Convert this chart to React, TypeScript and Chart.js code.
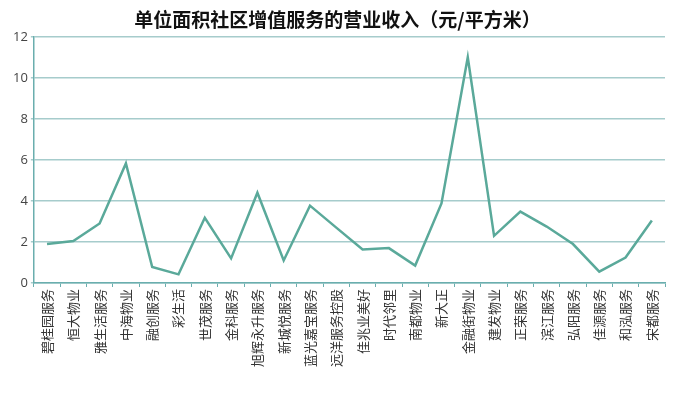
import React, { useEffect, useRef } from "react";
import { Chart, registerables } from "chart.js";

Chart.register(...registerables);

const categories = [
  "碧桂园服务", "恒大物业", "雅生活服务", "中海物业", "融创服务", "彩生活",
  "世茂服务", "金科服务", "旭辉永升服务", "新城悦服务", "蓝光嘉宝服务", "远洋服务控股",
  "佳兆业美好", "时代邻里", "南都物业", "新大正", "金融街物业", "建发物业",
  "正荣服务", "滨江服务", "弘阳服务", "佳源服务", "和泓服务", "宋都服务",
];
const values = [
  1.9, 2.05, 2.9, 5.83, 0.78, 0.42, 3.18, 1.2, 4.4, 1.1, 3.77, 2.7,
  1.63, 1.7, 0.85, 3.88, 11.0, 2.3, 3.48, 2.75, 1.9, 0.55, 1.24, 3.05,
];
const title = "单位面积社区增值服务的营业收入（元/平方米）";

export default function App() {
  const ref = useRef<HTMLCanvasElement | null>(null);
  useEffect(() => {
    if (!ref.current) return;
    const chart = new Chart(ref.current, {
      type: "line",
      data: {
        labels: categories,
        datasets: [
          {
            data: values,
            borderColor: "#5aa99a",
            borderWidth: 2.5,
            pointRadius: 0,
            tension: 0,
            fill: false,
          },
        ],
      },
      options: {
        animation: false,
        responsive: true,
        maintainAspectRatio: false,
        layout: { padding: { left: 2, right: 27, top: 0, bottom: 22 } },
        plugins: {
          legend: { display: false },
          tooltip: { enabled: false },
          title: {
            display: true,
            text: title,
            color: "#111",
            font: { size: 19, weight: "bold", family: "'Noto Sans CJK SC', sans-serif" },
            padding: { top: 0, bottom: 6 },
          },
        },
        scales: {
          x: {
            offset: true,
            grid: {
              display: true,
              drawOnChartArea: false,
              drawTicks: true,
              tickLength: 4,
              color: "#6aaeae",
              offset: true,
            },
            border: { color: "#6aaeae", width: 1.5 },
            ticks: {
              autoSkip: false,
              maxRotation: 90,
              minRotation: 90,
              color: "#333",
              padding: 2,
              font: { size: 13, family: "'Noto Sans CJK SC', sans-serif" },
            },
          },
          y: {
            min: 0,
            max: 12,
            ticks: {
              stepSize: 2,
              color: "#444",
              padding: 3,
              font: { size: 13, family: "'Open Sans', sans-serif" },
            },
            grid: {
              color: "#a6cccc",
              lineWidth: 1.5,
              drawTicks: true,
              tickLength: 3,
            },
            border: { color: "#6aaeae", width: 1.5 },
          },
        },
      },
    });
    return () => chart.destroy();
  }, []);
  return (
    <div style={{ width: 684, height: 383 }}>
      <canvas ref={ref} />
    </div>
  );
}
